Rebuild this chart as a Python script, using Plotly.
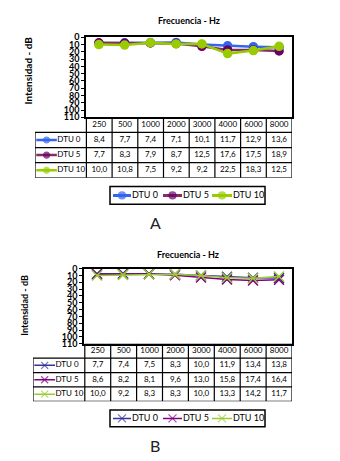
import plotly.graph_objects as go

# ---------------- data ----------------
freqs = ["250", "500", "1000", "2000", "3000", "4000", "6000", "8000"]
series_names = ["DTU 0", "DTU 5", "DTU 10"]

a_dtu0 = [8.4, 7.7, 7.4, 7.1, 10.1, 11.7, 12.9, 13.6]
a_dtu5 = [7.7, 8.3, 7.9, 8.7, 12.5, 17.6, 17.5, 18.9]
a_dtu10 = [10.0, 10.8, 7.5, 9.2, 9.2, 22.5, 18.3, 12.5]

b_dtu0 = [7.7, 7.4, 7.5, 8.3, 10.0, 11.9, 13.4, 13.8]
b_dtu5 = [8.6, 8.2, 8.1, 9.6, 13.0, 15.8, 17.4, 16.4]
b_dtu10 = [10.0, 9.2, 8.3, 8.3, 10.0, 13.3, 14.2, 11.7]

y_ticks = list(range(0, 111, 10))

# ---------------- styling ----------------
W, H = 340, 461
FONT = "Lato"
colors_a = ["#3366EE", "#7F2F66", "#99CC00"]
marker_colors_a = ["#3366EE", "#6A0066", "#99CC00"]
colors_b = ["#333399", "#800080", "#99CC33"]

# legend layout (local pixel units inside legend box): key start, key end, text start
legend_slots = [(3, 21, 22), (53, 72, 73), (102, 122, 123)]


def px_x(x):
    return x / W


def px_y(y):
    return 1 - y / H


def fmt(v):
    return f"{v:.1f}".replace(".", ",")


def axname(prefix, n):
    return f"{prefix}{'' if n == 1 else n}"


fig = go.Figure()

panels = [
    dict(key="A", data=[a_dtu0, a_dtu5, a_dtu10], colors=colors_a, mcolors=marker_colors_a,
         symbol="circle", msize=8, lw=2.5, kmsize=6,
         plot_x=(86, 292), plot_y=(32, 114), tab_x=(35, 292), tab_y=(114, 176),
         title_y=15, ytitle_x=28, ytitle_y=66, ytitle_size=10,
         legend_x=(110, 265), legend_y=(185, 203), letter_y=222),
    dict(key="B", data=[b_dtu0, b_dtu5, b_dtu10], colors=colors_b, mcolors=colors_b,
         symbol="x-thin", msize=10, lw=1.5, kmsize=7,
         plot_x=(84, 292), plot_y=(269, 346), tab_x=(33, 292), tab_y=(346, 405),
         title_y=255, ytitle_x=25, ytitle_y=307, ytitle_size=9,
         legend_x=(110, 265), legend_y=(414, 431), letter_y=450),
]

annotations = []
shapes = []
ax_n = 1
TXT = dict(family=FONT, size=8, color="black")
for p in panels:
    xi, xt, xl = ax_n, ax_n + 1, ax_n + 2
    ax_n += 3
    xa, ya = axname("x", xi), axname("y", xi)
    xta, yta = axname("x", xt), axname("y", xt)
    xla, yla = axname("x", xl), axname("y", xl)

    # plot axes
    fig.layout[axname("xaxis", xi)] = dict(
        domain=[px_x(p["plot_x"][0]), px_x(p["plot_x"][1])], range=[-0.5, 7.5],
        showticklabels=False, ticks="", showgrid=False, zeroline=False,
        showline=True, mirror=True, linecolor="black", linewidth=1.5, anchor=ya,
        fixedrange=True)
    fig.layout[axname("yaxis", xi)] = dict(
        domain=[px_y(p["plot_y"][1]), px_y(p["plot_y"][0])], range=[110, 0],
        tickmode="array", tickvals=y_ticks, ticktext=[str(t) for t in y_ticks],
        ticks="outside", ticklen=3, tickcolor="black",
        tickfont=dict(family=FONT, size=9, color="black", weight="bold"),
        showgrid=False, zeroline=False, showline=True, mirror=True,
        linecolor="black", linewidth=1.5, anchor=xa, fixedrange=True)
    # table axes
    fig.layout[axname("xaxis", xt)] = dict(
        domain=[px_x(p["tab_x"][0]), px_x(p["tab_x"][1])], range=[-2.5, 7.5],
        visible=False, anchor=yta, fixedrange=True)
    fig.layout[axname("yaxis", xt)] = dict(
        domain=[px_y(p["tab_y"][1]), px_y(p["tab_y"][0])], range=[4, 0],
        visible=False, anchor=xta, fixedrange=True)
    # legend axes (pixel units)
    lw_px = p["legend_x"][1] - p["legend_x"][0]
    fig.layout[axname("xaxis", xl)] = dict(
        domain=[px_x(p["legend_x"][0]), px_x(p["legend_x"][1])], range=[0, lw_px],
        visible=False, anchor=yla, fixedrange=True)
    fig.layout[axname("yaxis", xl)] = dict(
        domain=[px_y(p["legend_y"][1]), px_y(p["legend_y"][0])], range=[0, 1],
        visible=False, anchor=xla, fixedrange=True)

    idx = list(range(len(freqs)))
    # series lines
    for s, (name, vals) in enumerate(zip(series_names, p["data"])):
        fig.add_trace(go.Scatter(
            x=idx, y=vals, name=name, mode="lines+markers", xaxis=xa, yaxis=ya,
            line=dict(color=p["colors"][s], width=p["lw"]),
            marker=dict(symbol=p["symbol"], size=p["msize"], color=p["mcolors"][s],
                        line=dict(color=p["mcolors"][s], width=1.5)),
            showlegend=False))

    # table header text
    fig.add_trace(go.Scatter(
        x=idx, y=[0.5] * len(freqs), text=freqs, mode="text", xaxis=xta, yaxis=yta,
        textfont=TXT, showlegend=False, hoverinfo="skip"))
    # table values + keys
    for s, (name, vals) in enumerate(zip(series_names, p["data"])):
        row = s + 1.5
        fig.add_trace(go.Scatter(
            x=idx, y=[row] * len(vals), text=[fmt(v) for v in vals], mode="text",
            xaxis=xta, yaxis=yta, textfont=TXT, showlegend=False, hoverinfo="skip"))
        fig.add_trace(go.Scatter(
            x=[-2.45, -2.05, -1.65], y=[row] * 3, mode="lines+markers",
            xaxis=xta, yaxis=yta,
            line=dict(color=p["colors"][s], width=p["lw"]),
            marker=dict(symbol=p["symbol"], size=[0, p["kmsize"], 0],
                        color=p["mcolors"][s], line=dict(color=p["mcolors"][s], width=1.2)),
            showlegend=False, hoverinfo="skip"))
        fig.add_trace(go.Scatter(
            x=[-1.63], y=[row], text=[name], mode="text", textposition="middle right",
            xaxis=xta, yaxis=yta, textfont=TXT, showlegend=False, hoverinfo="skip"))

        # bottom legend entry
        k0, k1, t0 = legend_slots[s]
        fig.add_trace(go.Scatter(
            x=[k0, (k0 + k1) / 2, k1], y=[0.5] * 3, mode="lines+markers",
            xaxis=xla, yaxis=yla,
            line=dict(color=p["colors"][s], width=p["lw"] + 0.5 if p["symbol"] == "circle" else p["lw"]),
            marker=dict(symbol=p["symbol"], size=[0, p["kmsize"] + 1, 0],
                        color=p["mcolors"][s], line=dict(color=p["mcolors"][s], width=1.2)),
            showlegend=False, hoverinfo="skip"))
        fig.add_trace(go.Scatter(
            x=[t0], y=[0.5], text=[name], mode="text", textposition="middle right",
            xaxis=xla, yaxis=yla, textfont=dict(family=FONT, size=9, color="black"),
            showlegend=False, hoverinfo="skip"))

    # legend border
    shapes.append(dict(type="rect", xref=f"{xla} domain", yref=f"{yla} domain",
                       x0=0, x1=1, y0=0, y1=1, line=dict(color="black", width=1.5)))

    # table borders
    lw = 1.2
    shapes.append(dict(type="line", xref=xta, yref=yta, x0=-0.5, x1=7.5, y0=0, y1=0,
                       line=dict(color="black", width=1.5)))
    for r in range(1, 5):
        shapes.append(dict(type="line", xref=xta, yref=yta, x0=-2.5, x1=7.5, y0=r, y1=r,
                           line=dict(color="black", width=lw)))
    shapes.append(dict(type="line", xref=xta, yref=yta, x0=-2.5, x1=-2.5, y0=1, y1=4,
                       line=dict(color="black", width=lw)))
    for c in range(len(freqs) + 1):
        shapes.append(dict(type="line", xref=xta, yref=yta, x0=c - 0.5, x1=c - 0.5, y0=0, y1=4,
                           line=dict(color="black", width=lw)))

    # titles
    cx = (p["plot_x"][0] + p["plot_x"][1]) / 2
    annotations.append(dict(text="<b>Frecuencia - Hz</b>", x=px_x(cx), y=px_y(p["title_y"]),
                            xref="paper", yref="paper", showarrow=False,
                            xanchor="center", yanchor="middle",
                            font=dict(family=FONT, size=9, color="black")))
    annotations.append(dict(text="<b>Intensidad - dB</b>", x=px_x(p["ytitle_x"]),
                            y=px_y(p["ytitle_y"]), xref="paper", yref="paper",
                            showarrow=False, textangle=-90,
                            xanchor="center", yanchor="middle",
                            font=dict(family=FONT, size=p["ytitle_size"], color="black")))
    annotations.append(dict(text=p["key"], x=px_x(155), y=px_y(p["letter_y"]),
                            xref="paper", yref="paper", showarrow=False,
                            xanchor="center", yanchor="middle",
                            font=dict(family=FONT, size=16, color="#222222")))

fig.update_layout(
    width=W, height=H, autosize=False,
    margin=dict(l=0, r=0, t=0, b=0),
    paper_bgcolor="white", plot_bgcolor="white",
    annotations=annotations, shapes=shapes, showlegend=False,
)

fig.write_html("out.html", config={"displayModeBar": False})
